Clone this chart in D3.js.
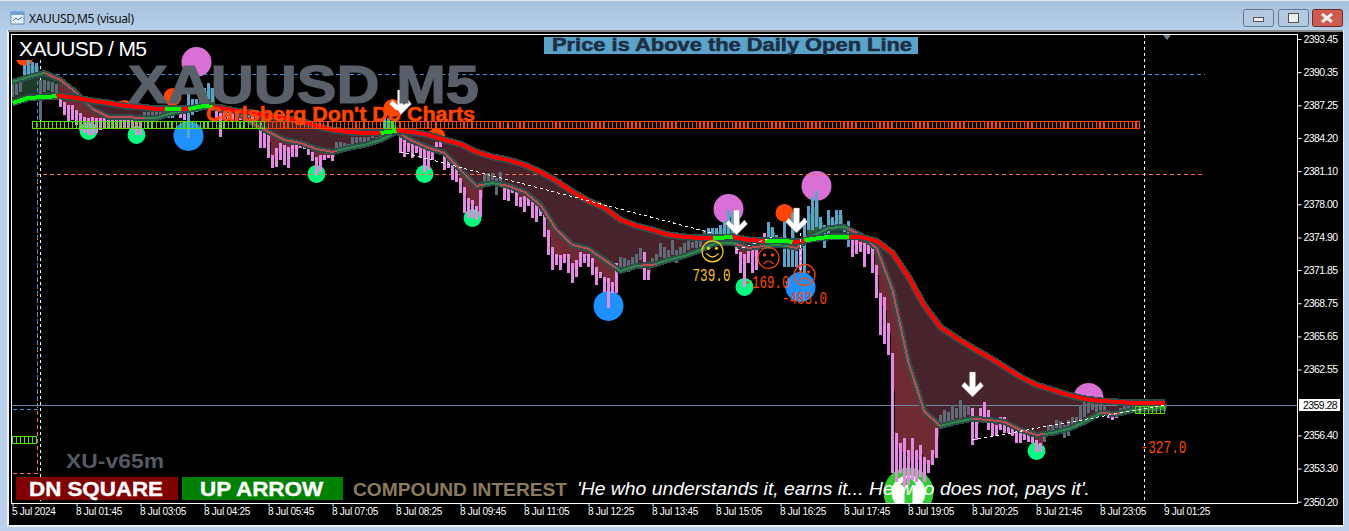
<!DOCTYPE html>
<html>
<head>
<meta charset="utf-8">
<title>XAUUSD,M5 (visual)</title>
<script src="https://cdn.jsdelivr.net/npm/d3@7"></script>
<style>
html, body { margin: 0; padding: 0; background: #b9d1ea; overflow: hidden; }
svg { display: block; }
text { font-family: "Liberation Sans", Arial, sans-serif; }
</style>
</head>
<body>
<svg id="chart" width="1349" height="531"></svg>
<script>
// values, one entry per M5 bar (0 = 5 Jul, last = 9 Jul 01:25)
var barHigh = [
  2389.2,2389.2,2389.4,2391.0,2391.5,2391.3,2391.2,2389.6,2389.6,2389.5,
  2389.4,2389.2,2387.8,2387.6,2387.3,2387.3,2386.8,2386.5,2386.2,2386.1,
  2386.2,2386.1,2386.1,2386.3,2386.3,2386.3,2386.2,2386.1,2386.1,2386.2,
  2386.2,2386.1,2386.2,2386.6,2386.6,2386.6,2386.6,2386.6,2386.6,2387.0,
  2387.0,2387.2,2386.8,2387.1,2388.4,2387.8,2387.8,2388.7,2388.9,2389.3,
  2388.9,2387.0,2386.5,2386.5,2386.5,2386.5,2386.5,2386.5,2386.5,2386.5,
  2386.5,2386.5,
  2385.6,2385.2,2384.5,2382.6,2383.3,2383.7,2383.5,2383.4,2383.5,2383.5,
  2384.0,2383.5,2383.4,2382.9,2382.4,2382.6,2382.6,2382.6,2382.6,2383.8,
  2383.8,2383.7,2383.6,2384.3,2384.3,2384.3,2384.3,2384.3,2385.0,2384.3,
  2384.4,2386.1,2386.1,2385.7,2385.2,
  2384.3,2384.0,2383.7,2383.7,2383.5,2383.4,2383.3,2383.1,2382.9,2383.8,
  2383.8,2382.8,2382.3,2382.0,2381.4,2380.5,2379.6,2378.6,2378.4,2377.8,
  2379.3,2380.7,2380.9,2380.9,2380.5,2381.0,2379.6,2379.5,2379.3,2379.2,
  2378.7,2378.8,2378.7,2378.4,2377.9,2377.9,2377.2,2375.6,2374.0,2373.4,
  2373.3,2373.4,2373.4,2372.5,2372.8,2373.5,2373.4,2373.4,2373.0,2372.1,
  2371.7,2371.2,2371.1,2370.7,2372.5,2373.1,2373.0,2372.8,2373.1,2373.4,
  2373.9,2373.5,2371.9,
  2373.0,2373.4,2374.4,2374.0,2373.7,2374.7,2373.7,2374.0,2374.4,2374.7,
  2374.5,2374.7,2374.9,2375.6,2375.8,2375.8,2375.8,2376.1,2376.4,2377.5,
  2377.2,2374.7,2373.5,2373.4,2373.9,2373.7,2373.7,2374.9,2375.3,2376.3,
  2375.9,2375.1,2374.9,2376.3,2374.7,2377.2,2374.7,2374.4,2376.7,2377.8,
  2378.7,2379.2,2376.8,2376.1,2377.5,2376.8,2377.5,2377.5,2376.1,2376.4,
  2374.7,2374.7,2374.5,2374.4,2374.2,2374.0,2372.3,2369.7,2369.3,2366.9,
  2364.1,2356.6,2355.7,2356.2,2355.0,2356.2,2355.0,2355.5,2354.4,2354.1,
  2355.0,2357.1,2358.3,2358.8,2358.6,2359.2,2359.0,2359.7,2359.2,2359.2,
  2359.0,2358.1,2359.0,2359.5,2358.8,2357.7,2357.4,2358.1,2358.1,2357.2,
  2357.2,2357.1,2356.6,2356.6,2356.6,2356.4,2356.0,2355.7,2356.6,2357.4,
  2357.4,2357.8,2357.7,2357.4,2357.8,2358.1,2358.1,2359.2,2359.5,2359.5,
  2359.4,2359.5,2359.4,2359.2,2358.6,2358.5,2358.6,2359.0,2359.1,2359.1,
  2359.2,2359.2,2359.2,2359.2,2359.2,2359.2,2359.2,2359.2,2359.2
];
var barLow = [
  2388.0,2388.2,2388.5,2389.6,2389.8,2390.0,2390.4,2385.9,2388.5,2388.7,
  2388.5,2388.2,2387.1,2386.3,2385.7,2385.9,2385.4,2384.9,2384.7,2384.5,
  2384.5,2384.7,2384.9,2385.1,2385.1,2385.1,2385.1,2385.1,2385.1,2385.1,
  2384.9,2384.5,2384.5,2385.9,2386.1,2386.1,2386.1,2386.1,2386.1,2386.1,
  2386.1,2386.3,2386.1,2385.9,2384.2,2386.3,2386.6,2387.3,2387.8,2387.8,
  2387.6,2386.1,2384.3,2385.9,2385.9,2385.9,2385.9,2385.9,2385.9,2385.9,
  2385.9,2385.9,
  2383.3,2383.3,2382.3,2381.4,2381.5,2382.1,2381.7,2381.4,2382.4,2382.4,
  2383.3,2383.2,2382.6,2382.0,2380.7,2381.0,2382.1,2382.3,2382.0,2383.3,
  2383.4,2383.4,2383.4,2383.5,2383.7,2383.8,2383.8,2383.8,2384.2,2384.0,
  2384.1,2384.7,2384.7,2384.8,2384.8,
  2382.8,2382.4,2382.9,2382.3,2382.8,2382.3,2381.0,2381.2,2382.1,2383.4,
  2383.4,2381.2,2381.4,2380.3,2380.1,2379.1,2377.2,2376.7,2376.7,2376.5,
  2376.8,2380.1,2380.1,2380.3,2378.9,2380.1,2378.4,2378.3,2379.1,2377.8,
  2377.7,2377.3,2377.8,2376.7,2376.3,2376.9,2374.9,2373.3,2371.9,2372.3,
  2371.9,2372.5,2371.6,2370.6,2371.2,2372.1,2372.5,2372.1,2371.4,2370.5,
  2371.1,2369.8,2368.3,2369.7,2369.7,2372.0,2372.0,2371.7,2372.3,2372.5,
  2372.8,2370.9,2370.9,
  2372.1,2372.6,2373.1,2373.0,2373.0,2373.3,2372.5,2373.3,2373.4,2373.7,
  2373.9,2373.9,2374.0,2374.7,2374.9,2374.9,2374.9,2374.9,2374.9,2375.1,
  2374.9,2373.4,2371.6,2370.3,2372.5,2371.6,2371.9,2374.4,2374.4,2374.7,
  2374.4,2374.7,2374.5,2372.1,2372.1,2372.1,2372.1,2371.9,2371.6,2375.6,
  2375.6,2375.9,2375.6,2373.9,2374.7,2375.6,2375.8,2375.9,2375.4,2374.0,
  2373.1,2373.4,2373.5,2372.1,2373.4,2371.6,2369.2,2365.8,2364.9,2363.9,
  2352.9,2352.0,2352.9,2351.6,2351.8,2352.2,2352.0,2352.5,2352.0,2352.9,
  2353.6,2354.3,2357.2,2357.6,2357.7,2357.8,2358.0,2358.0,2358.1,2358.3,
  2355.5,2356.0,2357.8,2358.1,2356.9,2356.3,2356.3,2356.9,2356.6,2356.6,
  2356.3,2355.7,2355.7,2356.0,2355.8,2355.7,2354.8,2354.8,2355.8,2356.6,
  2356.6,2357.1,2356.7,2356.2,2356.3,2357.1,2357.4,2357.7,2358.1,2358.5,
  2358.8,2358.6,2358.8,2358.6,2358.0,2357.8,2358.0,2358.5,2358.6,2358.7,
  2358.7,2358.8,2358.8,2358.7,2358.7,2358.7,2358.7,2358.7,2358.7
];
// g = grey, b = blue, p = pink; [kind, how many bars in a row]
var barKindRuns = [['g',3],['b',4],['g',5],['p',21],['g',6],['b',3],['p',2],['b',7],['p',30],['g',12],
  ['b',4],['p',21],['g',5],['p',29],['g',6],['p',2],['g',14],['b',7],['p',8],['b',8],['p',1],['b',12],
  ['p',22],['g',8],['p',18],['g',16],['p',3],['g',12]];

// ribbon, one value every 4 bars
var ribbonBars = d3.range(0, 289, 4);
var slowLine = [
  2387.47,2387.94,2388.03,2388.13,2387.94,2387.66,2387.47,2387.19,2387.10,2386.91,
  2386.91,2386.91,2387.19,2387.00,2386.72,2386.54,2386.26,2386.07,2385.79,2385.32,
  2384.95,2384.76,2384.67,2384.67,2384.86,2384.76,2384.48,2384.01,2383.64,2382.89,
  2382.43,2382.14,2381.68,2381.02,2380.18,2379.15,2378.31,2377.66,2376.54,2375.98,
  2375.60,2375.14,2374.95,2374.85,2374.85,2374.95,2374.67,2374.57,2374.57,2374.48,
  2374.76,2374.95,2374.95,2374.95,2374.57,2373.45,2371.21,2368.50,2366.50,2365.50,
  2364.57,2363.73,2362.80,2361.86,2361.11,2360.65,2360.18,2359.81,2359.62,2359.53,
  2359.43,2359.43,2359.43
];
var fastLine = [
  2389.44,2389.90,2390.28,2389.62,2388.41,2386.91,2386.16,2386.16,2386.07,2386.07,
  2386.54,2386.82,2387.10,2387.10,2386.63,2385.60,2384.76,2384.01,2383.73,2383.17,
  2382.89,2383.27,2383.55,2384.01,2384.76,2383.92,2383.27,2382.80,2381.21,2379.71,
  2379.99,2379.71,2379.15,2377.94,2375.60,2374.20,2373.83,2372.80,2371.77,2372.24,
  2372.33,2372.80,2373.17,2373.73,2374.39,2374.39,2373.92,2374.11,2374.20,2373.92,
  2375.04,2375.79,2375.88,2375.14,2373.92,2369.99,2363.17,2358.59,2357.28,2357.66,
  2357.94,2357.84,2357.66,2356.91,2356.44,2356.63,2357.00,2357.66,2358.50,2358.40,
  2358.78,2358.87,2358.96
];
var slowGreen = [[0,11],[38,42],[44,50],[92,96],[175,180],[188,195],[198,209]];
var fastGreen = [[0,8],[33,50],[81,96],[118,122],[151,157],[161,181],[188,194],[198,209],[232,240],[258,272],[277,288]];

// signal circles
var orchidBars = [46,179,201,269];
var orchidPrices = [2391.3,2377.56,2379.71,2359.90];
var blueBars = [44,149,197];
var bluePrices = [2384.39,2368.50,2370.27];
var greenBars = [19,31,76,103,115,183,256];
var greenPrices = [2384.86,2384.48,2380.84,2380.84,2376.72,2370.27,2354.95];
var orangeBars = [3,28,40,95,106,122,193,237];
var orangePrices = [2391.77,2386.91,2388.03,2387.0,2384.3,2381.12,2377.19,2359.81];
var arrowBars = [97,181,196,240];
var arrowPrices = [2386.35,2375.13,2375.32,2359.99];

// trades: smiley + result text
var faceBars = [175,189,198];
var facePrices = [2373.6,2372.98,2371.4];
var faceHappy = [true,false,false];
var resultLabels = ['739.0','-169.0','-483.0','-327.0'];
var resultBars = [170,183,192.4,282];
var resultPrices = [2370.83,2370.18,2368.68,2354.76];

// white dotted trade lines [bar, price, bar, price]
var tradeLines = [[97,2382.9,175,2375.3],[181,2373.73,190,2374.95],[197,2375.32,197,2371.68],[240,2355.97,288,2359.25]];

// hollow block bands [from bar, to bar, upper, lower, colour]
var bandFrom = [63,5,93,0,281];
var bandTo = [282,63,96,6,288];
var bandHigh = [2385.79,2385.79,2385.79,2356.35,2359.15];
var bandLow = [2385.13,2385.13,2385.13,2355.69,2358.50];
var bandColor = ['#ff4500','#55e000','#55e000','#55e000','#4fd014'];

var blueLevel = [2358.78,2390.09];
var salmonLevel = [2352.8,2380.74];

var priceTicks = [2393.45,2390.35,2387.25,2384.20,2381.10,2378.00,2374.90,2371.85,2368.75,2365.65,2362.55,2356.40,2353.30,2350.20];
var timeTickBars = d3.range(0, 289, 16);
var timeLabels = ['5 Jul 2024','8 Jul 01:45','8 Jul 03:05','8 Jul 04:25','8 Jul 05:45','8 Jul 07:05','8 Jul 08:25',
  '8 Jul 09:45','8 Jul 11:05','8 Jul 12:25','8 Jul 13:45','8 Jul 15:05','8 Jul 16:25','8 Jul 17:45','8 Jul 19:05',
  '8 Jul 20:25','8 Jul 21:45','8 Jul 23:05','9 Jul 01:25'];
var currentPrice = 2359.28;

var barKind = [];
barKindRuns.forEach(function(r) { for (var k=0; k<r[1]; k++) barKind.push(r[0]); });
var kindColor = {g: '#606b75', b: '#5ba3c9', p: '#e58ae2'};

var x = d3.scaleLinear().domain([0, 288]).range([12.5, 1164.5]);
var y = d3.scaleLinear().domain([2393.45, 2350.20]).range([39, 501.7]);
var slowAt = d3.scaleLinear().domain(ribbonBars).range(slowLine);
var fastAt = d3.scaleLinear().domain(ribbonBars).range(fastLine);

var svg = d3.select('#chart');

drawWindow();

var plot = svg.append('g');
svg.append('clipPath').attr('id', 'plotClip').append('rect').attr('x', 12).attr('y', 35).attr('width', 1285).attr('height', 469);
plot.attr('clip-path', 'url(#plotClip)');

drawCircles(orchidBars, orchidPrices, 15, '#da70d6');
drawCircles(blueBars, bluePrices, 15, '#1e90ff');
drawCircles(greenBars, greenPrices, 9, '#00ff7f');
drawCircles(orangeBars, orangePrices, 9, '#ff4500');
plot.append('rect').attr('x', 12).attr('y', 35).attr('width', 60).attr('height', 25).attr('fill', '#000');
drawBigArrow();
drawRibbonFill();
drawLevels();
drawBars();
drawRibbonLines();
drawBands();
drawTradeLines();
drawFaces();
drawArrows();
drawAxes();
drawTexts();

function barIndex() { return d3.range(barHigh.length); }

function drawWindow() {
  var defs = svg.append('defs');
  var grad = defs.append('linearGradient').attr('id', 'titleGrad').attr('x1', 0).attr('x2', 0).attr('y1', 0).attr('y2', 1);
  grad.append('stop').attr('offset', '0%').attr('stop-color', '#a6c1dc');
  grad.append('stop').attr('offset', '100%').attr('stop-color', '#b6cfe8');
  svg.append('rect').attr('width', 1349).attr('height', 531).attr('fill', '#b9d1ea');
  svg.append('rect').attr('width', 1349).attr('height', 30).attr('fill', 'url(#titleGrad)');
  svg.append('rect').attr('x', 0).attr('y', 0).attr('width', 1349).attr('height', 1).attr('fill', '#dce7f2');
  svg.append('rect').attr('x', 7).attr('y', 30).attr('width', 1337).attr('height', 497).attr('fill', '#f0f0f0');
  svg.append('rect').attr('x', 8).attr('y', 30).attr('width', 1335).attr('height', 2).attr('fill', '#8c8c8c');
  svg.append('rect').attr('x', 9).attr('y', 32).attr('width', 1334).attr('height', 493).attr('fill', '#000');

  // title bar icon
  svg.append('rect').attr('x', 11).attr('y', 12).attr('width', 13).attr('height', 12).attr('fill', '#e8f1fa').attr('stroke', '#5e8fc0');
  svg.append('rect').attr('x', 11).attr('y', 12).attr('width', 13).attr('height', 3).attr('fill', '#6fa0d0');
  svg.append('path').attr('d', 'M13,21 l3,-3 l2,2 l4,-3').attr('fill', 'none').attr('stroke', '#3b6ea5');
  svg.append('text').attr('x', 29).attr('y', 23).attr('font-size', 12).attr('fill', '#111')
    .style('font-family', '"Noto Sans", sans-serif').attr('textLength', 105).text('XAUUSD,M5 (visual)');

  // window buttons
  var btnX = [1243, 1278, 1312];
  var btnFill = ['#b3c9df', '#b3c9df', '#cf5a50'];
  btnX.forEach(function(bx, i) {
    svg.append('rect').attr('x', bx + 0.5).attr('y', 9.5).attr('width', 30).attr('height', 17).attr('rx', 2)
      .attr('fill', btnFill[i]).attr('stroke', i == 2 ? '#6b2b2b' : '#66788f');
  });
  svg.append('rect').attr('x', 1253.5).attr('y', 17.5).attr('width', 10).attr('height', 4).attr('fill', '#eee').attr('stroke', '#555');
  svg.append('rect').attr('x', 1288.5).attr('y', 13.5).attr('width', 10).attr('height', 9).attr('fill', '#eee').attr('stroke', '#555');
  svg.append('path').attr('d', 'M1322,14 L1332,22 M1332,14 L1322,22').attr('stroke', '#eee').attr('stroke-width', 3);
}

function drawCircles(bars, prices, r, color) {
  plot.append('g').selectAll('circle').data(bars).enter().append('circle')
    .attr('cx', function(d) { return x(d); })
    .attr('cy', function(d, i) { return y(prices[i]); })
    .attr('r', r)
    .attr('fill', color);
}

function drawBigArrow() {
  var g = plot.append('g').attr('transform', 'translate(' + x(224) + ',' + y(2351.05) + ')');
  g.append('circle').attr('r', 21).attr('fill', '#fff').attr('stroke', '#32cd32').attr('stroke-width', 8);
  g.append('path').attr('d', 'M0,-17 L-9,-7 L-4,-7 L-4,20 L4,20 L4,-7 L9,-7 Z').attr('fill', '#32cd32');
}

function drawRibbonFill() {
  // between the two ribbon lines
  plot.append('g').selectAll('rect').data(barIndex()).enter().append('rect')
    .attr('x', function(d) { return x(d) - 2; })
    .attr('width', 4)
    .attr('y', function(d) { return Math.min(y(slowAt(d)), y(fastAt(d))); })
    .attr('height', function(d) { return Math.abs(y(slowAt(d)) - y(fastAt(d))); })
    .attr('fill', function(d) { return fastAt(d) > slowAt(d) ? '#1f3a2b' : '#47232c'; })
    .attr('shape-rendering', 'crispEdges');

  // from the thin line to the bar bodies
  var bodies = barIndex().filter(function(d) {
    if (barKind[d] == 'p') return bodyPrice(d) < fastAt(d);
    if (barKind[d] == 'b') return bodyPrice(d) > fastAt(d);
    return false;
  });
  plot.append('g').selectAll('rect').data(bodies).enter().append('rect')
    .attr('x', function(d) { return x(d) - 2; })
    .attr('width', 4)
    .attr('y', function(d) { return Math.min(y(fastAt(d)), y(bodyPrice(d))); })
    .attr('height', function(d) { return Math.abs(y(fastAt(d)) - y(bodyPrice(d))); })
    .attr('fill', function(d) { return barKind[d] == 'p' ? '#6f2a33' : '#2b5c38'; })
    .attr('shape-rendering', 'crispEdges');
}

function bodyPrice(d) {
  return barHigh[d] - (barHigh[d] - barLow[d]) * 0.3;
}

function drawLevels() {
  var line = d3.line().x(function(d) { return x(d[0]); }).y(function(d) { return y(d[1]); });
  plot.append('path').datum([[0,salmonLevel[0]],[6.3,salmonLevel[0]],[6.3,salmonLevel[1]],[298,salmonLevel[1]]])
    .attr('d', line).attr('fill', 'none').attr('stroke', '#f96a52').attr('stroke-dasharray', '4 3').attr('shape-rendering', 'crispEdges');
  plot.append('path').datum([[0,blueLevel[0]],[6.3,blueLevel[0]],[6.3,blueLevel[1]],[298,blueLevel[1]]])
    .attr('d', line).attr('fill', 'none').attr('stroke', '#3d8fe6').attr('stroke-dasharray', '4 3').attr('shape-rendering', 'crispEdges');
  // day separators
  [7, 283].forEach(function(b, i) {
    plot.append('line').attr('x1', x(b)).attr('x2', x(b))
      .attr('y1', i == 0 ? 60 : 35).attr('y2', 504)
      .attr('stroke', '#fff').attr('stroke-dasharray', '3 3').attr('shape-rendering', 'crispEdges');
  });
  plot.append('line').attr('x1', 12).attr('x2', 1297)
    .attr('y1', Math.round(y(currentPrice)) + 0.5).attr('y2', Math.round(y(currentPrice)) + 0.5)
    .attr('stroke', '#6f86a3');
}

function drawBars() {
  plot.append('g').selectAll('rect').data(barIndex()).enter().append('rect')
    .attr('x', function(d) { return x(d) - 1.5; })
    .attr('width', 3)
    .attr('y', function(d) { return y(barHigh[d]); })
    .attr('height', function(d) { return y(barLow[d]) - y(barHigh[d]); })
    .attr('fill', function(d) { return kindColor[barKind[d]]; })
    .attr('shape-rendering', 'crispEdges');
}

function ribbonPath(at, from, to) {
  var line = d3.line().x(function(d) { return x(d); }).y(function(d) { return y(at(d)); });
  return line(d3.range(from, to + 1));
}

function drawRibbonLines() {
  var g = plot.append('g').attr('fill', 'none').attr('shape-rendering', 'crispEdges');
  // thin line
  g.append('path').attr('d', ribbonPath(fastAt, 0, 288)).attr('stroke', '#2f4f4f').attr('stroke-width', 6);
  g.append('path').attr('d', ribbonPath(fastAt, 0, 288)).attr('stroke', '#c04a4c').attr('stroke-width', 2);
  fastGreen.forEach(function(s) {
    g.append('path').attr('d', ribbonPath(fastAt, s[0], s[1])).attr('stroke', '#2e8b47').attr('stroke-width', 2);
  });
  // thick line
  g.append('path').attr('d', ribbonPath(slowAt, 0, 288)).attr('stroke', '#2f4f4f').attr('stroke-width', 7);
  g.append('path').attr('d', ribbonPath(slowAt, 0, 288)).attr('stroke', '#ff0000').attr('stroke-width', 4);
  slowGreen.forEach(function(s) {
    g.append('path').attr('d', ribbonPath(slowAt, s[0], s[1])).attr('stroke', '#00ff00').attr('stroke-width', 4);
  });
}

function drawBands() {
  bandFrom.forEach(function(from, i) {
    plot.append('g').selectAll('rect').data(d3.range(from, bandTo[i])).enter().append('rect')
      .attr('x', function(d) { return Math.round(x(d)) - 0.5; })
      .attr('width', 4)
      .attr('y', Math.round(y(bandHigh[i])) + 0.5)
      .attr('height', Math.round(y(bandLow[i]) - y(bandHigh[i])))
      .attr('fill', 'none')
      .attr('stroke', bandColor[i])
      .attr('shape-rendering', 'crispEdges');
  });
}

function drawTradeLines() {
  plot.append('g').selectAll('line').data(tradeLines).enter().append('line')
    .attr('x1', function(d) { return x(d[0]); })
    .attr('y1', function(d) { return y(d[1]); })
    .attr('x2', function(d) { return x(d[2]); })
    .attr('y2', function(d) { return y(d[3]); })
    .attr('stroke', '#fff')
    .attr('stroke-dasharray', '3 3')
    .attr('shape-rendering', 'crispEdges');
}

function drawFaces() {
  faceBars.forEach(function(b, i) {
    var color = faceHappy[i] ? '#ffd21f' : '#ff4500';
    var g = plot.append('g').attr('transform', 'translate(' + x(b) + ',' + y(facePrices[i]) + ')')
      .attr('fill', 'none').attr('stroke', color);
    g.append('circle').attr('r', 10.5).attr('stroke-width', 1.2);
    g.append('circle').attr('cx', -4).attr('cy', -3).attr('r', 1.2).attr('fill', color);
    g.append('circle').attr('cx', 4).attr('cy', -3).attr('r', 1.2).attr('fill', color);
    g.append('path').attr('stroke-width', 1.2)
      .attr('d', faceHappy[i] ? 'M-6,2 Q0,9 6,2' : 'M-5,6 Q0,0 5,6');
  });
  var widths = [38, 45, 45, 46];
  plot.append('g').selectAll('text').data(resultLabels).enter().append('text')
    .attr('x', function(d, i) { return x(resultBars[i]); })
    .attr('y', function(d, i) { return y(resultPrices[i]); })
    .attr('font-size', 18)
    .style('font-family', '"Liberation Mono", monospace')
    .attr('textLength', function(d, i) { return widths[i]; })
    .attr('lengthAdjust', 'spacingAndGlyphs')
    .attr('fill', function(d, i) { return i == 0 ? '#ffc21a' : '#ff4500'; })
    .text(function(d) { return d; });
}

function drawArrows() {
  plot.append('g').selectAll('path').data(arrowBars).enter().append('path')
    .attr('transform', function(d, i) { return 'translate(' + x(d) + ',' + y(arrowPrices[i]) + ')'; })
    .attr('d', 'M0,0 L-11,-11 L-8,-15 L-3,-10 L-3,-25 L3,-25 L3,-10 L8,-15 L11,-11 Z')
    .attr('fill', '#fff')
    .attr('stroke', '#8a8a8a')
    .attr('stroke-width', 0.5);
}

function drawAxes() {
  svg.append('rect').attr('x', 11.5).attr('y', 34.5).attr('width', 1286).attr('height', 469)
    .attr('fill', 'none').attr('stroke', '#fff');

  var yAxis = d3.axisRight(y).tickValues(priceTicks).tickSize(4).tickPadding(2).tickFormat(d3.format('.2f'));
  var ya = svg.append('g').attr('transform', 'translate(1297.5,0)').call(yAxis);
  ya.select('.domain').remove();
  ya.selectAll('line').attr('stroke', '#fff');
  ya.selectAll('text').attr('fill', '#fff').attr('font-size', 10.5).attr('letter-spacing', '-0.55px')
    .style('font-family', '"Liberation Sans", Arial, sans-serif');

  var xAxis = d3.axisBottom(x).tickValues(timeTickBars).tickSize(3).tickPadding(1)
    .tickFormat(function(d, i) { return timeLabels[i]; });
  var xa = svg.append('g').attr('transform', 'translate(0,503.5)').call(xAxis);
  xa.select('.domain').remove();
  xa.selectAll('line').attr('stroke', '#fff');
  xa.selectAll('text').attr('fill', '#fff').attr('font-size', 10).attr('letter-spacing', '-0.25px')
    .attr('text-anchor', 'start').attr('x', -1)
    .style('font-family', '"Liberation Sans", Arial, sans-serif');

  // current price tag
  svg.append('rect').attr('x', 1299).attr('y', Math.round(y(currentPrice)) - 6).attr('width', 41).attr('height', 12).attr('fill', '#fff');
  svg.append('text').attr('x', 1303).attr('y', Math.round(y(currentPrice)) + 4).attr('font-size', 10.5)
    .attr('letter-spacing', '-0.55px').attr('fill', '#000').text(d3.format('.2f')(currentPrice));

  svg.append('path').attr('d', 'M1163,35 L1171,35 L1167,40 Z').attr('fill', '#6f8090');
}

function drawTexts() {
  svg.append('text').attr('x', 19).attr('y', 56).attr('font-size', 21).attr('fill', '#fff').attr('textLength', 128).text('XAUUSD / M5');

  svg.append('text').attr('x', 128).attr('y', 103).attr('font-size', 53).attr('font-weight', 'bold')
    .attr('fill', '#596069').attr('stroke', '#596069').attr('stroke-width', 1.2)
    .attr('textLength', 351).attr('lengthAdjust', 'spacingAndGlyphs').text('XAUUSD M5');
  svg.append('text').attr('x', 206).attr('y', 121).attr('font-size', 20).attr('font-weight', 'bold')
    .attr('fill', '#ff4500').attr('stroke', '#ff4500').attr('stroke-width', 0.5)
    .attr('textLength', 269).attr('lengthAdjust', 'spacingAndGlyphs').text("Carlsberg Don't Do Charts");

  svg.append('rect').attr('x', 544).attr('y', 37).attr('width', 374).attr('height', 17).attr('fill', '#5ba3c9');
  svg.append('text').attr('x', 552).attr('y', 51).attr('font-size', 17.5).attr('font-weight', 'bold')
    .attr('fill', '#1c2f45').attr('stroke', '#1c2f45').attr('stroke-width', 0.5)
    .attr('textLength', 360).attr('lengthAdjust', 'spacingAndGlyphs').text('Price is Above the Daily Open Line');

  svg.append('text').attr('x', 66).attr('y', 468).attr('font-size', 20).attr('font-weight', 'bold')
    .attr('fill', '#535a63').attr('textLength', 98).attr('lengthAdjust', 'spacingAndGlyphs').text('XU-v65m');

  svg.append('rect').attr('x', 16).attr('y', 477).attr('width', 162).attr('height', 23).attr('fill', '#800000');
  svg.append('text').attr('x', 29).attr('y', 496).attr('font-size', 20).attr('font-weight', 'bold')
    .attr('fill', '#fff').attr('stroke', '#fff').attr('stroke-width', 0.4)
    .attr('textLength', 134).attr('lengthAdjust', 'spacingAndGlyphs').text('DN SQUARE');
  svg.append('rect').attr('x', 182).attr('y', 477).attr('width', 161).attr('height', 23).attr('fill', '#008000');
  svg.append('text').attr('x', 200).attr('y', 496).attr('font-size', 20).attr('font-weight', 'bold')
    .attr('fill', '#fff').attr('stroke', '#fff').attr('stroke-width', 0.4)
    .attr('textLength', 123).attr('lengthAdjust', 'spacingAndGlyphs').text('UP ARROW');

  svg.append('text').attr('x', 353).attr('y', 496).attr('font-size', 19).attr('font-weight', 'bold')
    .attr('fill', '#8b7b5b').attr('textLength', 214).attr('lengthAdjust', 'spacingAndGlyphs').text('COMPOUND INTEREST');
  svg.append('text').attr('x', 577).attr('y', 495).attr('font-size', 18).attr('font-style', 'italic')
    .attr('fill', '#fff').attr('textLength', 513).attr('lengthAdjust', 'spacingAndGlyphs')
    .text("'He who understands it, earns it... He who does not, pays it'.");
}
</script>
</body>
</html>
